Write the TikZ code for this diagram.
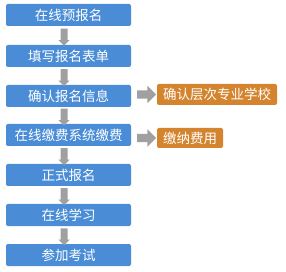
\documentclass[tikz,border=0pt]{standalone}
\usepackage{fontspec}
\newfontfamily\cjk{Noto Sans CJK SC}
\usetikzlibrary{shapes.arrows,calc}
\definecolor{boxblue}{HTML}{4A8DD6}
\definecolor{boxorange}{HTML}{D4842E}
\definecolor{arrgrey}{HTML}{A0A0A0}
\begin{document}
\begin{tikzpicture}[x=1pt,y=-1pt,
  bluebox/.style={fill=boxblue,rounded corners=2pt,minimum width=125pt,minimum height=22pt,inner sep=0pt,text=white,font=\cjk\fontsize{13.5}{13.5}\selectfont},
  orangebox/.style={fill=boxorange,rounded corners=2pt,minimum height=21pt,inner sep=0pt,text=white,font=\cjk\fontsize{13.5}{13.5}\selectfont},
  downarr/.style={fill=arrgrey,single arrow,shape border rotate=270,minimum height=17pt,inner sep=3.3pt,single arrow head extend=2.2pt,single arrow tip angle=90},
  rightarr/.style={fill=arrgrey,single arrow,minimum height=19pt,inner sep=4pt,single arrow head extend=4.5pt,single arrow tip angle=90}]
\useasboundingbox (0,0) rectangle (286,272);
\node[bluebox] (b1) at (68.5,15) {在线预报名};
\node[bluebox] (b2) at (68.5,56) {填写报名表单};
\node[bluebox] (b3) at (68.5,96) {确认报名信息};
\node[bluebox] (b4) at (68.5,135) {在线缴费系统缴费};
\node[bluebox] (b5) at (68.5,175) {正式报名};
\node[bluebox] (b6) at (68.5,215) {在线学习};
\node[bluebox] (b7) at (68.5,255) {参加考试};
\node[orangebox,minimum width=120pt] (o1) at (217,94.5) {确认层次专业学校};
\node[orangebox,minimum width=66pt,minimum height=20pt] (o2) at (190,138) {缴纳费用};
\node[downarr] (a1) at ($(b1.south)!0.5!(b2.north)+(-4.5,0)$) {};
\node[downarr] (a2) at ($(b2.south)!0.5!(b3.north)+(-4.5,0)$) {};
\node[downarr] (a3) at ($(b3.south)!0.5!(b4.north)+(-4.5,0)$) {};
\node[downarr] (a4) at ($(b4.south)!0.5!(b5.north)+(-4.5,0)$) {};
\node[downarr] (a5) at ($(b5.south)!0.5!(b6.north)+(-4.5,0)$) {};
\node[downarr] (a6) at ($(b6.south)!0.5!(b7.north)+(-4.5,0)$) {};
\node[rightarr] (r1) at (144.5,94.5) {};
\node[rightarr] (r2) at (144.5,138) {};
\end{tikzpicture}
\end{document}
